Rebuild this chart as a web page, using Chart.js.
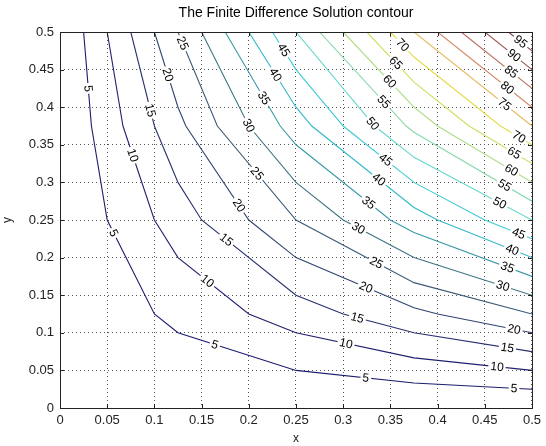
<!DOCTYPE html>
<html>
<head>
<meta charset="utf-8">
<title>The Finite Difference Solution contour</title>
<script src="https://cdn.jsdelivr.net/npm/chart.js@4.4.1/dist/chart.umd.min.js"></script>
<style>
  html, body { margin: 0; padding: 0; background: #fff; }
  #wrap { width: 546px; height: 446px; }
</style>
</head>
<body>
<div id="wrap"><canvas id="contourChart" width="546" height="446"></canvas></div>
<script>
// contour levels and the vertices of each contour line (x, y)
const levels = [5, 10, 15, 20, 25, 30, 35, 40, 45, 50, 55, 60, 65, 70, 75, 80, 85, 90, 95];

const lineX = [
    [0.025, 0.0333, 0.05, 0.1, 0.125, 0.25, 0.375, 0.5],
    [0.05, 0.0667, 0.1, 0.125, 0.2, 0.25, 0.375, 0.5],
    [0.075, 0.1, 0.125, 0.15, 0.25, 0.3, 0.375, 0.5],
    [0.1, 0.125, 0.1333, 0.2, 0.25, 0.375, 0.4, 0.5],
    [0.125, 0.1667, 0.25, 0.375, 0.5],
    [0.15, 0.2, 0.25, 0.3, 0.375, 0.5],
    [0.175, 0.2333, 0.25, 0.35, 0.375, 0.5],
    [0.2, 0.25, 0.2667, 0.375, 0.4, 0.5],
    [0.225, 0.25, 0.3, 0.375, 0.45, 0.5],
    [0.25, 0.3333, 0.375, 0.5],
    [0.275, 0.3667, 0.375, 0.5],
    [0.3, 0.375, 0.4, 0.5],
    [0.325, 0.375, 0.4333, 0.5],
    [0.35, 0.375, 0.4667, 0.5],
    [0.375, 0.5],
    [0.4, 0.5],
    [0.425, 0.5],
    [0.45, 0.5],
    [0.475, 0.5]
];

const lineY = [
    [0.5, 0.375, 0.25, 0.125, 0.1, 0.05, 0.0333, 0.025],
    [0.5, 0.375, 0.25, 0.2, 0.125, 0.1, 0.0667, 0.05],
    [0.5, 0.375, 0.3, 0.25, 0.15, 0.125, 0.1, 0.075],
    [0.5, 0.4, 0.375, 0.25, 0.2, 0.1333, 0.125, 0.1],
    [0.5, 0.375, 0.25, 0.1667, 0.125],
    [0.5, 0.375, 0.3, 0.25, 0.2, 0.15],
    [0.5, 0.375, 0.35, 0.25, 0.2333, 0.175],
    [0.5, 0.4, 0.375, 0.2667, 0.25, 0.2],
    [0.5, 0.45, 0.375, 0.3, 0.25, 0.225],
    [0.5, 0.375, 0.3333, 0.25],
    [0.5, 0.375, 0.3667, 0.275],
    [0.5, 0.4, 0.375, 0.3],
    [0.5, 0.4333, 0.375, 0.325],
    [0.5, 0.4667, 0.375, 0.35],
    [0.5, 0.375],
    [0.5, 0.4],
    [0.5, 0.425],
    [0.5, 0.45],
    [0.5, 0.475]
];

// where the inline level labels sit: [level, x, y]
const labelSpots = [
    [5, 0.030, 0.425], [10, 0.077, 0.336], [15, 0.096, 0.396], [20, 0.114, 0.443], [25, 0.130, 0.485],
    [30, 0.199, 0.375], [35, 0.216, 0.412], [40, 0.228, 0.443], [45, 0.237, 0.476],
    [25, 0.207, 0.310], [20, 0.188, 0.268], [15, 0.175, 0.222], [10, 0.155, 0.167],
    [5, 0.056, 0.232], [5, 0.164, 0.084],
    [50, 0.330, 0.377], [55, 0.343, 0.407], [60, 0.349, 0.434], [65, 0.356, 0.459], [70, 0.363, 0.483],
    [45, 0.345, 0.330], [40, 0.338, 0.304], [35, 0.327, 0.273], [30, 0.316, 0.239], [25, 0.335, 0.193],
    [20, 0.324, 0.160], [15, 0.315, 0.120], [10, 0.303, 0.086], [5, 0.324, 0.040],
    [95, 0.488, 0.487], [90, 0.481, 0.469], [85, 0.478, 0.447], [80, 0.474, 0.426], [75, 0.471, 0.404],
    [70, 0.486, 0.360], [65, 0.481, 0.339], [60, 0.478, 0.316], [55, 0.471, 0.296], [50, 0.466, 0.273],
    [45, 0.486, 0.232], [40, 0.479, 0.210], [35, 0.474, 0.187], [30, 0.469, 0.162],
    [20, 0.481, 0.105], [15, 0.474, 0.080], [10, 0.463, 0.055], [5, 0.481, 0.026]
];

const xTicks = [0, 0.05, 0.1, 0.15, 0.2, 0.25, 0.3, 0.35, 0.4, 0.45, 0.5];
const yTicks = [0, 0.05, 0.1, 0.15, 0.2, 0.25, 0.3, 0.35, 0.4, 0.45, 0.5];

const lineColors = [
    "#1c1c6e", "#202070", "#28306e", "#2f4470", "#3a5a78", "#3f7482", "#3a9aa8",
    "#30b8c8", "#3ccad3", "#62d6cc", "#88d8aa", "#acdc80", "#d2dc5c", "#e4dc48",
    "#e4bc5e", "#d48a66", "#bc6a5a", "#9a5650", "#7c4646"
];

const FONT = '"Liberation Sans", Arial, Helvetica, sans-serif';

// inline labels: snap to nearest point of the line, rotate along it
const contourLabels = {
    id: "contourLabels",
    afterDatasetsDraw(chart) {
        const ctx = chart.ctx;
        const sx = chart.scales.x, sy = chart.scales.y;
        ctx.save();
        ctx.font = "12px " + FONT;
        ctx.textAlign = "center";
        ctx.textBaseline = "middle";
        labelSpots.forEach(function (spot) {
            const k = levels.indexOf(spot[0]);
            const xs = lineX[k], ys = lineY[k];
            const px = sx.getPixelForValue(spot[1]);
            const py = sy.getPixelForValue(spot[2]);
            let best = null;
            for (let i = 0; i < xs.length - 1; i++) {
                const ax = sx.getPixelForValue(xs[i]), ay = sy.getPixelForValue(ys[i]);
                const bx = sx.getPixelForValue(xs[i + 1]), by = sy.getPixelForValue(ys[i + 1]);
                const dx = bx - ax, dy = by - ay;
                let t = ((px - ax) * dx + (py - ay) * dy) / (dx * dx + dy * dy);
                t = Math.max(0, Math.min(1, t));
                const qx = ax + t * dx, qy = ay + t * dy;
                const d = (qx - px) * (qx - px) + (qy - py) * (qy - py);
                if (!best || d < best.d) best = { d: d, x: qx, y: qy, a: Math.atan2(dy, dx) };
            }
            const text = String(spot[0]);
            const w = ctx.measureText(text).width;
            ctx.save();
            ctx.translate(best.x, best.y);
            ctx.rotate(best.a);
            ctx.fillStyle = "#fff";
            ctx.fillRect(-w / 2 - 2, -4.5, w + 4, 9);
            ctx.fillStyle = "#000";
            ctx.fillText(text, 0, 0.5);
            ctx.restore();
        });
        ctx.restore();
    }
};

// axes box with inward tick marks
const axesBox = {
    id: "axesBox",
    afterDraw(chart) {
        const ctx = chart.ctx;
        const a = chart.chartArea;
        const sx = chart.scales.x, sy = chart.scales.y;
        ctx.save();
        ctx.strokeStyle = "#222";
        ctx.lineWidth = 1;
        ctx.strokeRect(a.left + 0.5, a.top + 0.5, a.right - a.left, a.bottom - a.top);
        ctx.beginPath();
        xTicks.forEach(function (v) {
            const p = Math.round(sx.getPixelForValue(v)) + 0.5;
            ctx.moveTo(p, a.bottom); ctx.lineTo(p, a.bottom - 4);
            ctx.moveTo(p, a.top); ctx.lineTo(p, a.top + 4);
        });
        yTicks.forEach(function (v) {
            const p = Math.round(sy.getPixelForValue(v)) + 0.5;
            ctx.moveTo(a.left, p); ctx.lineTo(a.left + 4, p);
            ctx.moveTo(a.right, p); ctx.lineTo(a.right - 4, p);
        });
        ctx.stroke();
        ctx.restore();
    }
};

document.addEventListener("DOMContentLoaded", function () {
    const ctx = document.getElementById("contourChart").getContext("2d");

    const datasets = levels.map(function (lev, k) {
        return {
            label: String(lev),
            data: lineX[k].map(function (x, i) { return { x: x, y: lineY[k][i] }; }),
            showLine: true,
            borderColor: lineColors[k],
            borderWidth: 1.1,
            pointRadius: 0,
            fill: false,
            tension: 0
        };
    });

    new Chart(ctx, {
        type: "scatter",
        data: { datasets: datasets },
        options: {
            responsive: false,
            animation: false,
            layout: { padding: { left: 0, right: 8, top: 0, bottom: 0 } },
            plugins: {
                legend: { display: false },
                tooltip: { enabled: false },
                title: {
                    display: true,
                    text: "The Finite Difference Solution contour",
                    fullSize: false,
                    color: "#000",
                    font: { family: FONT, size: 14, weight: "normal" },
                    padding: { top: 5, bottom: 10.2 }
                }
            },
            scales: {
                x: {
                    type: "linear",
                    min: 0,
                    max: 0.5,
                    afterBuildTicks: function (s) { s.ticks = xTicks.map(function (v) { return { value: v }; }); },
                    afterFit: function (s) { s.height = 38; },
                    grid: { color: "#555", lineWidth: 1, drawTicks: false },
                    border: { display: false, dash: [1, 3] },
                    ticks: {
                        color: "#222",
                        font: { family: FONT, size: 13 },
                        padding: 5,
                        maxRotation: 0,
                        autoSkip: false,
                        callback: function (v) { return String(v); }
                    },
                    title: {
                        display: true,
                        text: "x",
                        color: "#222",
                        font: { family: FONT, size: 12 },
                        padding: { top: 0, bottom: 0 }
                    }
                },
                y: {
                    type: "linear",
                    min: 0,
                    max: 0.5,
                    afterBuildTicks: function (s) { s.ticks = yTicks.map(function (v) { return { value: v }; }); },
                    afterFit: function (s) { s.width = 60; },
                    grid: { color: "#555", lineWidth: 1, drawTicks: false },
                    border: { display: false, dash: [1, 3] },
                    ticks: {
                        color: "#222",
                        font: { family: FONT, size: 13 },
                        padding: 6,
                        autoSkip: false,
                        callback: function (v) { return String(v); }
                    },
                    title: {
                        display: true,
                        text: "y",
                        color: "#222",
                        font: { family: FONT, size: 12 },
                        padding: { top: 0, bottom: 0 }
                    }
                }
            }
        },
        plugins: [contourLabels, axesBox]
    });
});
</script>
</body>
</html>
